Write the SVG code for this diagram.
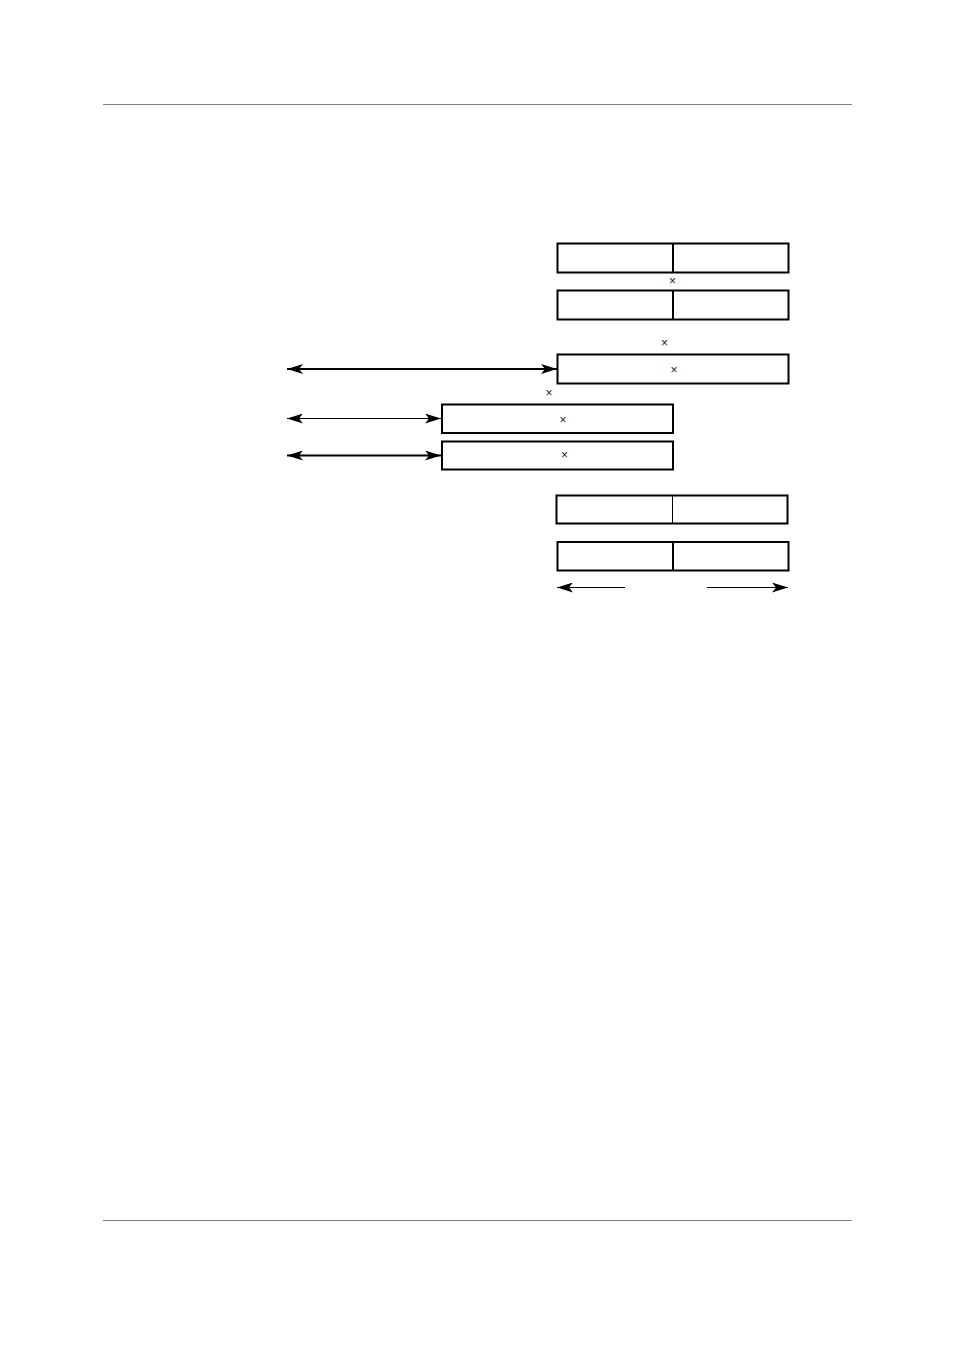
<svg xmlns="http://www.w3.org/2000/svg" width="954" height="1351" viewBox="0 0 954 1351">
<style>
.box{fill:#fff;stroke:#000;stroke-width:2}
.div{stroke:#000;stroke-width:2}
.x{font-family:"Liberation Sans",Arial,sans-serif;font-size:12px;fill:#222;text-anchor:middle}
.rule{stroke:#808080;stroke-width:1}
.arr{stroke:#000;fill:none}
</style>
<defs>
<marker id="ah" viewBox="0 0 16 10" refX="16" refY="5" markerWidth="16" markerHeight="10" markerUnits="userSpaceOnUse" orient="auto-start-reverse">
<path d="M0,0 L16,5 L0,10 L4,5 Z" fill="#000"/>
</marker>
</defs>
<rect width="954" height="1351" fill="#fff"/>
<line class="rule" x1="103" y1="104.5" x2="852" y2="104.5"/>
<line class="rule" x1="103" y1="1220.5" x2="852" y2="1220.5"/>
<g id="node1"><rect class="box" x="557.5" y="243.5" width="231" height="29"/><line class="div" x1="673" y1="243.5" x2="673" y2="272.5"/></g>
<text class="x" x="672.5" y="285">×</text>
<g id="node2"><rect class="box" x="557.5" y="290.5" width="231" height="29"/><line class="div" x1="673" y1="290.5" x2="673" y2="319.5"/></g>
<text class="x" x="664.5" y="347">×</text>
<g id="node3"><rect class="box" x="557.5" y="354.5" width="231" height="29"/><text class="x" x="674" y="374">×</text></g>
<text class="x" x="549" y="397">×</text>
<g id="node4"><rect class="box" x="442" y="404.5" width="231" height="28.5"/><text class="x" x="563" y="424">×</text></g>
<g id="node5"><rect class="box" x="442" y="441.5" width="231" height="28"/><text class="x" x="564.5" y="459">×</text></g>
<g id="node6"><rect class="box" x="556.5" y="495.5" width="231" height="28"/><line stroke="#000" stroke-width="1" x1="672.5" y1="495.5" x2="672.5" y2="523.5"/></g>
<g id="node7"><rect class="box" x="557.5" y="542" width="231" height="28.5"/><line class="div" x1="673" y1="542" x2="673" y2="570.5"/></g>
<g id="connectors">
<line class="arr" stroke-width="2" x1="287" y1="369" x2="557" y2="369" marker-start="url(#ah)" marker-end="url(#ah)"/>
<line class="arr" stroke-width="1.2" x1="287" y1="418.5" x2="441" y2="418.5" marker-start="url(#ah)" marker-end="url(#ah)"/>
<line class="arr" stroke-width="2" x1="287" y1="455.5" x2="441" y2="455.5" marker-start="url(#ah)" marker-end="url(#ah)"/>
<line class="arr" stroke-width="1.2" x1="625" y1="587.5" x2="557" y2="587.5" marker-end="url(#ah)"/>
<line class="arr" stroke-width="1.2" x1="707" y1="587.5" x2="788" y2="587.5" marker-end="url(#ah)"/>
</g>
</svg>
